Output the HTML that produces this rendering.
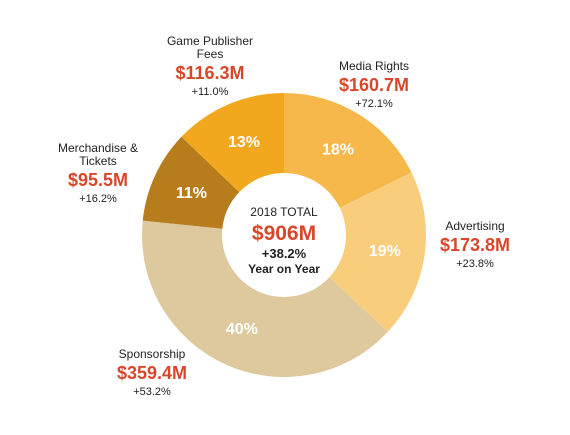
<!DOCTYPE html>
<html><head><meta charset="utf-8">
<style>
body{margin:0;width:570px;height:430px;background:#fff;overflow:hidden;font-family:"Liberation Sans",sans-serif;}
svg text{font-family:"Liberation Sans",sans-serif;}
</style></head>
<body>
<svg id="chart" width="570" height="430" xmlns="http://www.w3.org/2000/svg">
<g id="slices"></g>
<g id="labels"></g>
<g text-anchor="middle">
<text x="284" y="216" font-size="12" fill="#222">2018 TOTAL</text>
<text x="284" y="240" font-size="21" font-weight="bold" fill="#d9472b">$906M</text>
<text x="284" y="258" font-size="13" font-weight="bold" fill="#222">+38.2%</text>
<text x="284" y="273" font-size="12" font-weight="bold" fill="#222">Year on Year</text>
</g>
</svg>
<script>
const categories=["Media Rights","Advertising","Sponsorship","Merchandise & Tickets","Game Publisher Fees"];
const values=[160.7,173.8,359.4,95.5,116.3];
const pctLabels=["18%","19%","40%","11%","13%"];
const growth=["+72.1%","+23.8%","+53.2%","+16.2%","+11.0%"];
const colors=["#f6b84a","#f8cd7b","#dec89d","#b77c1c","#f2a81e"];
const cx=284,cy=235,R=142,r=62;
const NS="http://www.w3.org/2000/svg";
const total=values.reduce((a,b)=>a+b,0);
const pt=(a,rad)=>[cx+rad*Math.sin(a),cy-rad*Math.cos(a)];
const sg=document.getElementById('slices'),lg=document.getElementById('labels');
let a0=0;
// external label positions (layout, by index)
const ext=[[374,70,["Media Rights"]],[475,230,["Advertising"]],[152,358,["Sponsorship"]],[98,152,["Merchandise &","Tickets"]],[210,45,["Game Publisher","Fees"]]];
function txt(parent,x,y,s,size,fill,bold,name){
  const t=document.createElementNS(NS,'text');
  t.setAttribute('x',x);t.setAttribute('y',y);t.setAttribute('font-size',size);
  t.setAttribute('fill',fill);t.setAttribute('text-anchor','middle');
  if(bold)t.setAttribute('font-weight','bold');
  t.textContent=s;
  
  
  parent.appendChild(t);return t;
}
values.forEach((v,i)=>{
  const a1=a0+v/total*2*Math.PI;
  const [x0,y0]=pt(a0,R),[x1,y1]=pt(a1,R),[x2,y2]=pt(a1,r),[x3,y3]=pt(a0,r);
  const lf=(a1-a0)>Math.PI?1:0;
  const p=document.createElementNS(NS,'path');
  p.setAttribute('d',`M${x0},${y0}A${R},${R} 0 ${lf} 1 ${x1},${y1}L${x2},${y2}A${r},${r} 0 ${lf} 0 ${x3},${y3}Z`);
  p.setAttribute('fill',colors[i]);
  
  
  sg.appendChild(p);
  const [lx,ly]=pt((a0+a1)/2,102);
  txt(lg,lx,ly+6,pctLabels[i],16,'#fff',true,'percent-label');
  const [ex,ey,lines]=ext[i];
  lines.forEach((l,j)=>txt(lg,ex,ey+j*13,l,12,'#222',false,'category-label'));
  const off=(lines.length-1)*13;
  txt(lg,ex,ey+off+21,'$'+v.toFixed(1)+'M',18,'#d9472b',true,'value-label');
  txt(lg,ex,ey+off+37,growth[i],11,'#222',false,'growth-label');
  a0=a1;
});
</script>
</body></html>
